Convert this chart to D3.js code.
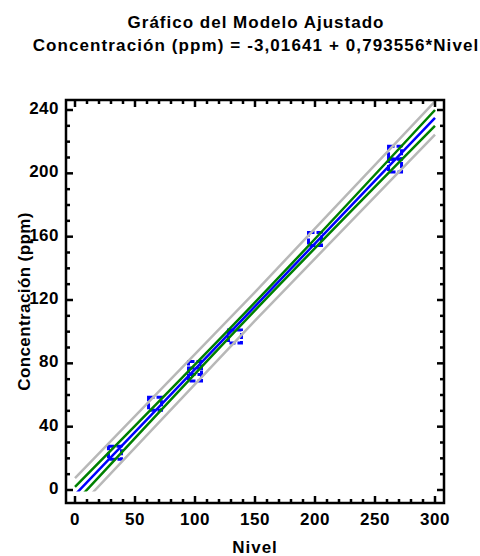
<!DOCTYPE html>
<html>
<head>
<meta charset="utf-8">
<script src="https://cdn.jsdelivr.net/npm/d3@7"></script>
<style>
body { margin: 0; background: #fff; }
text { font-family: "Liberation Sans", Arial, sans-serif; font-weight: bold; fill: #000; }
</style>
</head>
<body>
<div id="chart-area"></div>
<script>
// datos
var nivel = [33.3, 66.7, 100, 100, 133.3, 200, 266.7, 266.7];
var concentracion = [23.5, 54.5, 73, 77, 97, 158.5, 205, 213];

var bandX = [0, 150, 300];
var fitY = [-3.01641, 116.017, 235.05];
var confLo = [-8, 113.5, 230];
var confHi = [2, 118.5, 240];
var predLo = [-13.5, 107, 224.5];
var predHi = [7.5, 125, 245.5];

var xTicks = [0, 50, 100, 150, 200, 250, 300];
var yTicks = [0, 40, 80, 120, 160, 200, 240];

var width = 480, height = 556;
var frame = {left: 66, right: 444, top: 100, bottom: 503};

var svg = d3.select("#chart-area")
	.append("svg")
	.attr("width", width)
	.attr("height", height);

var x = d3.scaleLinear()
	.domain([0, 300])
	.range([75, 435]);

var y = d3.scaleLinear()
	.domain([0, 240])
	.range([490, 110]);

// titulo
svg.append("text")
	.attr("x", 256)
	.attr("y", 28)
	.attr("font-size", "17px")
	.attr("letter-spacing", "1px")
	.attr("text-anchor", "middle")
	.text("Gráfico del Modelo Ajustado");

svg.append("text")
	.attr("x", 256)
	.attr("y", 51)
	.attr("font-size", "17px")
	.attr("letter-spacing", "1.1px")
	.attr("text-anchor", "middle")
	.text("Concentración (ppm) = -3,01641 + 0,793556*Nivel");

svg.append("clipPath")
	.attr("id", "clip")
	.append("rect")
	.attr("x", frame.left)
	.attr("y", frame.top)
	.attr("width", frame.right - frame.left)
	.attr("height", y(-1) - frame.top);

var plot = svg.append("g").attr("clip-path", "url(#clip)");

var line = d3.line()
	.x(function(d) { return x(d[0]); })
	.y(function(d) { return y(d[1]); })
	.curve(d3.curveMonotoneX);

function band(vals) {
	return bandX.map(function(v, i) { return [v, vals[i]]; });
}

nivel.forEach(function(n, i) {
	plot.append("rect")
		.attr("x", x(n) - 6.5)
		.attr("y", y(concentracion[i]) - 6.5)
		.attr("width", 13)
		.attr("height", 13)
		.attr("fill", "none")
		.attr("stroke", "#0000ff")
		.attr("stroke-width", 3)
		.attr("stroke-dasharray", "6,2");
});

[predLo, predHi].forEach(function(b) {
	plot.append("path")
		.attr("d", line(band(b)))
		.attr("fill", "none")
		.attr("stroke", "#b8b8b8")
		.attr("stroke-width", 2.5);
});

[confLo, confHi].forEach(function(b) {
	plot.append("path")
		.attr("d", line(band(b)))
		.attr("fill", "none")
		.attr("stroke", "#008000")
		.attr("stroke-width", 2.5);
});

plot.append("path")
	.attr("d", line(band(fitY)))
	.attr("fill", "none")
	.attr("stroke", "#0000ff")
	.attr("stroke-width", 2.5);

// marco y marcas
var axisG = svg.append("g");

axisG.append("rect")
	.attr("x", frame.left)
	.attr("y", frame.top)
	.attr("width", frame.right - frame.left)
	.attr("height", frame.bottom - frame.top)
	.attr("fill", "none")
	.attr("stroke", "#000")
	.attr("stroke-width", 2.5);

var xMinor = d3.range(0, 301, 10);
var yMinor = d3.range(0, 241, 10);

xMinor.forEach(function(v) {
	var len = v % 50 === 0 ? 7 : 4;
	axisG.append("line")
		.attr("x1", x(v)).attr("x2", x(v))
		.attr("y1", frame.bottom).attr("y2", frame.bottom - len)
		.attr("stroke", "#000").attr("stroke-width", 2.5);
	axisG.append("line")
		.attr("x1", x(v)).attr("x2", x(v))
		.attr("y1", frame.top).attr("y2", frame.top + len)
		.attr("stroke", "#000").attr("stroke-width", 2.5);
});

yMinor.forEach(function(v) {
	var len = v % 40 === 0 ? 7 : 4;
	axisG.append("line")
		.attr("y1", y(v)).attr("y2", y(v))
		.attr("x1", frame.left).attr("x2", frame.left + len)
		.attr("stroke", "#000").attr("stroke-width", 2.5);
	axisG.append("line")
		.attr("y1", y(v)).attr("y2", y(v))
		.attr("x1", frame.right).attr("x2", frame.right - len)
		.attr("stroke", "#000").attr("stroke-width", 2.5);
});

xTicks.forEach(function(v) {
	svg.append("text")
		.attr("x", x(v))
		.attr("y", 525)
		.attr("font-size", "17px")
		.attr("letter-spacing", "0.5px")
		.attr("text-anchor", "middle")
		.text(v);
});

yTicks.forEach(function(v) {
	svg.append("text")
		.attr("x", 59)
		.attr("y", y(v) - 2)
		.attr("dy", "0.36em")
		.attr("font-size", "17px")
		.attr("letter-spacing", "0.5px")
		.attr("text-anchor", "end")
		.text(v);
});

svg.append("text")
	.attr("x", (frame.left + frame.right) / 2)
	.attr("y", 553)
	.attr("font-size", "17px")
	.attr("letter-spacing", "1px")
	.attr("text-anchor", "middle")
	.text("Nivel");

svg.append("text")
	.attr("transform", "translate(30," + ((frame.top + frame.bottom) / 2) + ") rotate(-90)")
	.attr("font-size", "17px")
	.attr("letter-spacing", "0.4px")
	.attr("text-anchor", "middle")
	.text("Concentración (ppm)");
</script>
</body>
</html>
